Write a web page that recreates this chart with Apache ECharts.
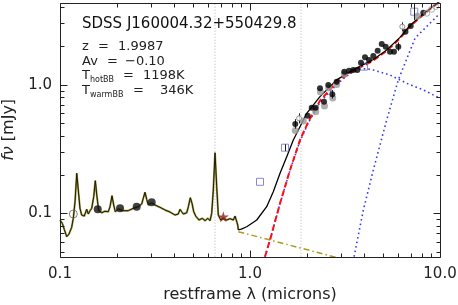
<!DOCTYPE html>
<html><head><meta charset="utf-8">
<script src="https://cdn.jsdelivr.net/npm/echarts@6/dist/echarts.min.js"></script>
<style>html,body{margin:0;padding:0;background:#fff}#c{width:458px;height:305px}</style>
</head><body><div id="c"></div>
<script>
// ---- axis ranges & ticks ----
const xMin = 0.1, xMax = 10;
const yMin = 0.0461, yMax = 4.31;
const xMajor = [0.1, 1, 10];
const xLabels = ["0.1", "1.0", "10.0"];
const xMinor = [0.2,0.3,0.4,0.5,0.6,0.7,0.8,0.9,2,3,4,5,6,7,8,9];
const yMajor = [0.1, 1];
const yLabels = ["0.1", "1.0"];
const yMinor = [0.05,0.06,0.07,0.08,0.09,0.2,0.3,0.4,0.5,0.6,0.7,0.8,0.9,2,3,4];

// ---- observed spectrum ----
const specLam = [0.1000,0.1028,0.1053,0.1085,0.1115,0.1152,0.1175,0.1200,0.1225,0.1248,0.1274,0.1300,0.1342,0.1382,0.1409,0.1439,0.1469,0.1505,0.1534,0.1565,0.1598,0.1657,0.1725,0.1795,0.1833,0.1878,0.1917,0.1955,0.2027,0.2153,0.2288,0.2431,0.2583,0.2692,0.2744,0.2801,0.2859,0.2915,0.3038,0.3162,0.3360,0.3570,0.3793,0.4029,0.4194,0.4281,0.4371,0.4457,0.4645,0.4736,0.4852,0.4953,0.5056,0.5178,0.5391,0.5610,0.5800,0.5993,0.6160,0.6287,0.6410,0.6545,0.6680,0.6811,0.7013,0.7238,0.7542,0.7849,0.8168,0.8343,0.8618,0.8680];
const specFlux = [0.0889,0.0838,0.0752,0.0659,0.0691,0.0780,0.0916,0.1233,0.2050,0.1520,0.1096,0.0972,0.0954,0.1076,0.0989,0.1050,0.1096,0.1349,0.1795,0.1349,0.1050,0.1012,0.1040,0.1030,0.1127,0.1373,0.1162,0.1030,0.1082,0.1050,0.1050,0.1096,0.1127,0.1183,0.1310,0.1459,0.1287,0.1162,0.1210,0.1162,0.1115,0.1063,0.1025,0.0972,0.0989,0.1076,0.1030,0.0989,0.1012,0.1127,0.1324,0.1198,0.1030,0.0954,0.0889,0.0916,0.0878,0.0916,0.0878,0.1002,0.1520,0.2962,0.1612,0.0972,0.0889,0.0916,0.0889,0.0910,0.0889,0.0954,0.0813,0.0745];

// ---- model components ----
const modelLam  = [0.868,0.900,0.961,1.085,1.224,1.326,1.439,1.561,1.690,1.833,1.988,2.335,2.860,3.498,3.947,4.457,5.241,6.160,6.952,8.168,10.0];
const modelFlux = [0.0745,0.0755,0.0788,0.0889,0.1127,0.1474,0.205,0.276,0.3717,0.4718,0.599,0.807,1.09,1.31,1.43,1.57,1.86,2.33,2.88,3.55,4.45];
const dustLam  = [1.199,1.274,1.439,1.624,1.833,2.027,2.335,2.860,3.498,3.947,4.457,5.241,6.160,6.952,8.168,9.220,10.0];
const dustFlux = [0.0461,0.0621,0.1198,0.2174,0.3717,0.516,0.75,1.05,1.28,1.40,1.54,1.83,2.29,2.84,3.50,4.04,4.42];
const hotLam  = [1.200,1.274,1.439,1.624,1.833,2.027,2.335,2.860,3.200,3.498,3.790,4.100,4.457,5.455,6.680,8.168,10.0];
const hotFlux = [0.0461,0.0620,0.1190,0.2160,0.365,0.505,0.73,1.00,1.16,1.26,1.32,1.33,1.30,1.19,1.025,0.91,0.784];
const warmLam  = [3.53,3.70,3.95,4.457,5.241,6.032,6.60,7.386,8.50,9.797,10.0];
const warmFlux = [0.0461,0.0656,0.1063,0.2174,0.532,1.088,1.514,2.294,2.823,3.48,3.55];
const diskLam  = [0.868,2.85];
const diskFlux = [0.0721,0.0455];
const markerLam = [0.6545, 1.855];

// ---- photometry ----
const optLam  = [0.158,0.207,0.2533,0.3038];
const optFlux = [0.1076,0.1096,0.1127,0.122];
const openLam = [0.1175];
const openFlux = [0.0989];
const starLam = [0.7238];
const starFlux = [0.0943];
const irLam  = [1.731,2.012,2.112,2.218,2.335,2.452,2.583,2.712,2.860,3.135,3.319,3.498,3.671,3.839,4.030,4.230,4.457,4.699,4.935,5.178,5.455,5.727,6.032,6.580,7.013,8.168];
const irFlux = [0.495,0.574,0.663,0.663,0.938,0.738,0.995,0.842,1.055,1.262,1.285,1.30,1.30,1.482,1.633,1.556,1.671,1.837,2.071,1.974,1.805,1.805,1.974,2.581,2.858,3.626];
const grayLam  = [1.731,1.908,2.218,2.350,2.466,2.596,2.725,2.860,3.135,7.600];
const grayFlux = [0.441,0.522,0.617,0.878,0.683,0.943,0.788,1.004,1.21,3.40];
const phiLam  = [1.811,6.333];
const phiFlux = [0.548,2.823];
const hatchLam  = [8.51,9.04,9.47];
const hatchFlux = [3.588,3.853,4.05];
const sqLam  = [1.129,1.528,3.98,7.32];
const sqFlux = [0.176,0.324,1.38,3.69];
const errLam = [1.731,2.712,6.032,1.811,6.333,7.32,1.528];
const errLo  = [0.455,0.78,1.83,0.50,2.62,3.18,0.305];
const errHi  = [0.54,0.91,2.13,0.60,3.05,4.31,0.345];

const zip = (a, b) => a.map((v, i) => [v, b[i]]);
const near = (v, arr) => arr.findIndex(m => Math.abs(Math.log10(v) - Math.log10(m)) < 1e-6);
const FONT = 'DejaVu Sans';
const axisColor = '#222';

const xAxis = {
  type: 'log', logBase: 10, min: xMin, max: xMax, position: 'bottom',
  axisLine: { show: false }, axisTick: { show: false },
  axisLabel: {
    show: true, margin: 10, fontSize: 15, fontFamily: FONT, color: '#222',
    formatter: v => { const i = near(v, xMajor); return i >= 0 ? xLabels[i] : ''; }
  },
  splitLine: { show: false },
  name: 'restframe λ (microns)', nameLocation: 'middle', nameGap: 30,
  nameTextStyle: { fontSize: 16, fontFamily: FONT, color: '#222' }
};
const yAxis = {
  type: 'log', logBase: 10, min: yMin, max: yMax, position: 'left',
  axisLine: { show: false }, axisTick: { show: false },
  axisLabel: {
    show: true, margin: 8, fontSize: 15, fontFamily: FONT, color: '#222',
    formatter: v => { const i = near(v, yMajor); return i >= 0 ? yLabels[i] : ''; }
  },
  splitLine: { show: false },
  name: '{i|fν} [mJy]', nameLocation: 'middle', nameGap: 38, nameRotate: 90,
  nameTextStyle: { fontSize: 16, fontFamily: FONT, color: '#222',
    rich: { i: { fontSize: 16, fontFamily: FONT, fontStyle: 'italic', color: '#222' } } }
};

const lineS = (lam, flux, color, width, type, z) => ({
  type: 'line', data: zip(lam, flux), symbol: 'none', z: z || 2,
  lineStyle: { color, width, type }, silent: true
});
const scat = (lam, flux, symbol, size, fill, stroke, bw, z) => ({
  type: 'scatter', data: zip(lam, flux), symbol, symbolSize: size, z: z || 5,
  itemStyle: { color: fill, borderColor: stroke, borderWidth: bw }, silent: true
});
const px = v => Math.round(v) + 0.5;

const series = [];
markerLam.forEach(v => series.push(lineS([v, v], [yMin, yMax], '#b4b4b4', 1, [1, 2], 1)));
series.push(lineS(specLam, specFlux, '#a39a3a', 2.0, 'solid', 2));
series.push(lineS(specLam, specFlux, '#1a1a0e', 1, 'solid', 3));
series.push(lineS(diskLam, diskFlux, '#ab9c1e', 1.5, [6, 3, 1.5, 3], 3));
series.push(lineS(hotLam, hotFlux, '#3a3af0', 1.6, [1.6, 3], 3));
series.push(lineS(warmLam, warmFlux, '#3a3af0', 1.6, [1.6, 3], 3));
series.push(lineS(dustLam, dustFlux, '#ff1010', 2, [6, 3], 4));
series.push(lineS(modelLam, modelFlux, '#000000', 1.3, 'solid', 5));
series.push(scat(sqLam, sqFlux, 'rect', 7, 'rgba(0,0,0,0)', '#6b6bc8', 1, 6));
series.push(scat(grayLam, grayFlux, 'circle', 7, '#9a9a9a', '#9a9a9a', 0, 6));
series.push({
  type: 'custom', z: 7, silent: true,
  data: errLam.map((v, i) => [v, errLo[i], errHi[i]]),
  encode: { x: 0, y: [1, 2] },
  renderItem: (params, api) => {
    const p1 = api.coord([api.value(0), api.value(1)]);
    const p2 = api.coord([api.value(0), api.value(2)]);
    return { type: 'line', shape: { x1: px(p1[0]), y1: p1[1], x2: px(p2[0]), y2: p2[1] }, style: { stroke: '#222', lineWidth: 1 } };
  }
});
series.push(scat(irLam, irFlux, 'circle', 6, '#000', '#000', 0, 8));
series.push(scat(phiLam, phiFlux, 'circle', 5, '#fff', '#777', 1, 8));
series.push(scat(hatchLam, hatchFlux, 'circle', 6, 'rgba(255,255,255,0.3)', '#999', 1, 8));
series.push(scat(optLam, optFlux, 'circle', 8, '#111', '#111', 0, 8));
series.push(scat(openLam, openFlux, 'circle', 8, 'rgba(255,255,255,0)', '#666', 1, 8));
series.push(scat(starLam, starFlux, 'path://M50,0 L61,35 L98,35 L68,57 L79,91 L50,70 L21,91 L32,57 L2,35 L39,35 Z', 11, '#8b1a1a', '#8b1a1a', 0, 8));

const T = (text, x, y, size, color) => ({
  type: 'text', x, y, silent: true, z: 100,
  style: { text, fill: color || '#222', font: `${size}px "${FONT}"`, verticalAlign: 'middle', align: 'left' }
});
const texts = [
  T('SDSS J160004.32+550429.8', 82, 24, 15, '#111'),
  T('z', 82, 47, 13), T('=', 98, 47, 13), T('1.9987', 118, 47, 13),
  T('Av', 82, 61.5, 13), T('=', 107, 61.5, 13), T('\u22120.10', 125, 61.5, 13),
  T('T', 82, 76, 13), T('hotBB', 90, 80, 8), T('=', 123, 76, 13), T('1198K', 143, 76, 13),
  T('T', 82, 90.5, 13), T('warmBB', 90, 94.5, 8), T('=', 133, 90.5, 13), T('346K', 160, 90.5, 13)
];

const chart = echarts.init(document.getElementById('c'), null, { renderer: 'canvas' });
chart.setOption({
  animation: false,
  grid: { left: 60, top: 3, width: 380, height: 253.7, outerBoundsMode: 'none' },
  xAxis, yAxis,
  series,
  graphic: texts
});

// frame and inside tick marks, positioned through the axes' own scales
const toPx = (x, y) => chart.convertToPixel({ xAxisIndex: 0, yAxisIndex: 0 }, [x, y]);
const bl = toPx(xMin, yMin), tr = toPx(xMax, yMax);
const L = px(bl[0]), R = px(tr[0]), B = px(bl[1]), Tp = px(tr[1]);
const st = { stroke: axisColor, lineWidth: 1, fill: null };
const seg = (x1, y1, x2, y2) => ({ type: 'line', silent: true, z: 99, shape: { x1, y1, x2, y2 }, style: st });
const frame = [
  { type: 'rect', silent: true, z: 99, shape: { x: L, y: Tp, width: R - L, height: B - Tp }, style: { stroke: axisColor, lineWidth: 1, fill: 'rgba(0,0,0,0)' } }
];
const addX = (vals, len) => vals.forEach(v => { const x = px(toPx(v, yMin)[0]); frame.push(seg(x, B, x, B - len), seg(x, Tp, x, Tp + len)); });
const addY = (vals, len) => vals.forEach(v => { const y = px(toPx(xMin, v)[1]); frame.push(seg(L, y, L + len, y), seg(R, y, R - len, y)); });
addX(xMajor, 7); addX(xMinor, 4); addY(yMajor, 7); addY(yMinor, 4);
chart.setOption({ graphic: texts.concat(frame) });
</script>
</body></html>
